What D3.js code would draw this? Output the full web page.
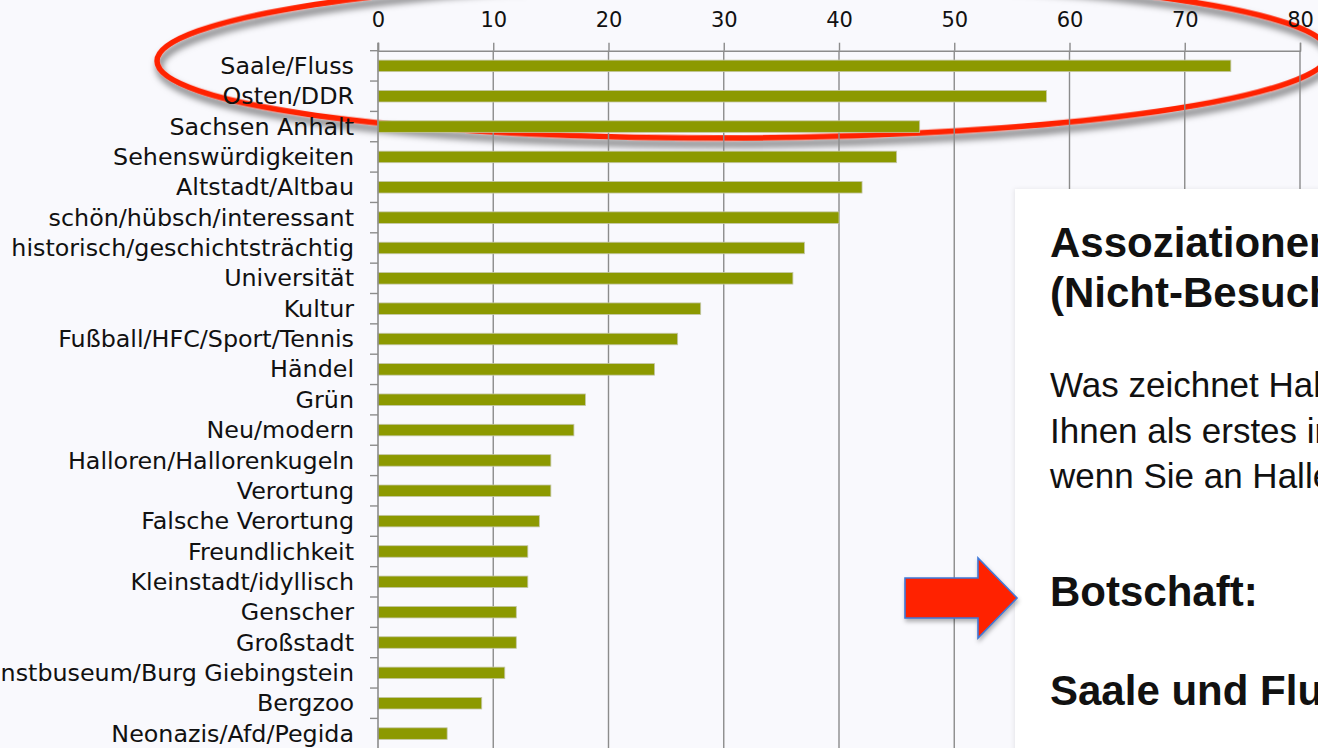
<!DOCTYPE html>
<html>
<head>
<meta charset="utf-8">
<script src="https://cdn.jsdelivr.net/npm/d3@7"></script>
<style>
  html, body { margin: 0; padding: 0; background: #f9f9fd; overflow: hidden; }
  svg { display: block; }
</style>
</head>
<body>
<div id="container"></div>
<script>
const categories = [
  'Saale/Fluss', 'Osten/DDR', 'Sachsen Anhalt', 'Sehenswürdigkeiten',
  'Altstadt/Altbau', 'schön/hübsch/interessant', 'historisch/geschichtsträchtig',
  'Universität', 'Kultur', 'Fußball/HFC/Sport/Tennis', 'Händel', 'Grün',
  'Neu/modern', 'Halloren/Hallorenkugeln', 'Verortung', 'Falsche Verortung',
  'Freundlichkeit', 'Kleinstadt/idyllisch', 'Genscher', 'Großstadt',
  'Kunstbuseum/Burg Giebingstein', 'Bergzoo', 'Neonazis/Afd/Pegida',
];
const values = [74, 58, 47, 45, 42, 40, 37, 36, 28, 26, 24, 18, 17, 15, 15, 14, 13, 13, 12, 12, 11, 9, 6];
const xTicks = [0, 10, 20, 30, 40, 50, 60, 70, 80];

const titleLines = ['Assoziationen', '(Nicht-Besucher)'];
const questionLines = ['Was zeichnet Halle', 'Ihnen als erstes in', 'wenn Sie an Halle'];
const messageLabel = 'Botschaft:';
const messageText = 'Saale und Fluss';

const width = 1318;
const height = 748;
const plotLeft = 378;
const plotRight = 1300;
const plotTop = 50.7;
const rowStep = 30.35;

const svg = d3
  .select('#container')
  .append('svg')
  .attr('width', width)
  .attr('height', height);

const defs = svg.append('defs');
defs
  .append('filter')
  .attr('id', 'shadow')
  .attr('x', '-10%')
  .attr('y', '-50%')
  .attr('width', '120%')
  .attr('height', '200%')
  .append('feDropShadow')
  .attr('dx', 2)
  .attr('dy', 6)
  .attr('stdDeviation', 3.5)
  .attr('flood-color', '#000')
  .attr('flood-opacity', 0.6);

defs
  .append('filter')
  .attr('id', 'boxshadow')
  .append('feDropShadow')
  .attr('dx', -1)
  .attr('dy', 0)
  .attr('stdDeviation', 2)
  .attr('flood-color', '#000')
  .attr('flood-opacity', 0.08);

svg.append('rect').attr('width', width).attr('height', height).attr('fill', '#f9f9fd');

// red ellipse sits behind the chart
svg
  .append('ellipse')
  .attr('cx', 743)
  .attr('cy', 57)
  .attr('rx', 586)
  .attr('ry', 81)
  .attr('transform', 'rotate(-0.4 743 57)')
  .attr('fill', 'none')
  .attr('stroke', '#ff2200')
  .attr('stroke-width', 5.5)
  .attr('filter', 'url(#shadow)');

const x = d3.scaleLinear().domain([0, 80]).range([plotLeft, plotRight]);

const y = d3
  .scaleBand()
  .domain(categories)
  .range([plotTop, plotTop + categories.length * rowStep])
  .paddingInner(0.62)
  .paddingOuter(0.31);

const gridColor = '#8c8c8c';

// top axis with gridlines
const xAxis = svg
  .append('g')
  .attr('transform', `translate(0,${plotTop})`)
  .call(d3.axisTop(x).tickValues(xTicks).tickSize(8).tickPadding(15.5));

xAxis
  .attr('font-size', 21)
  .attr('font-family', '"DejaVu Sans", Verdana, sans-serif');
xAxis.select('.domain').attr('stroke', gridColor).attr('stroke-width', 1.4);
xAxis.selectAll('.tick line').attr('stroke', gridColor).attr('stroke-width', 1.4);
xAxis.selectAll('.tick text').attr('fill', '#111');

svg
  .append('g')
  .selectAll('line')
  .data(xTicks.filter(d => d > 0))
  .enter()
  .append('line')
  .attr('x1', d => x(d))
  .attr('x2', d => x(d))
  .attr('y1', plotTop)
  .attr('y2', height)
  .attr('stroke', gridColor)
  .attr('stroke-width', 1.4);

// bars
svg
  .append('g')
  .selectAll('rect')
  .data(values)
  .enter()
  .append('rect')
  .attr('x', x(0))
  .attr('y', (d, i) => y(categories[i]))
  .attr('width', d => x(d) - x(0))
  .attr('height', y.bandwidth())
  .attr('fill', '#8c9900')
  .attr('stroke', '#c4c7a8')
  .attr('stroke-width', 0.8);

// left axis line, ticks between the rows, labels
const yAxis = svg.append('g');
yAxis
  .append('line')
  .attr('x1', x(0))
  .attr('x2', x(0))
  .attr('y1', plotTop - 8)
  .attr('y2', height)
  .attr('stroke', gridColor)
  .attr('stroke-width', 1.6);

yAxis
  .selectAll('.ytick')
  .data(categories)
  .enter()
  .append('line')
  .attr('class', 'ytick')
  .attr('x1', x(0) - 8)
  .attr('x2', x(0))
  .attr('y1', d => y(d) - (y.step() - y.bandwidth()) / 2)
  .attr('y2', d => y(d) - (y.step() - y.bandwidth()) / 2)
  .attr('stroke', gridColor)
  .attr('stroke-width', 1.4);

yAxis
  .selectAll('text')
  .data(categories)
  .enter()
  .append('text')
  .attr('x', x(0) - 24)
  .attr('y', d => y(d) + y.bandwidth() / 2)
  .attr('dy', '0.34em')
  .attr('text-anchor', 'end')
  .attr('fill', '#111')
  .style('font-family', '"DejaVu Sans", Verdana, sans-serif')
  .style('font-size', '23.8px')
  .text(d => d);

// white text panel on the right
svg
  .append('rect')
  .attr('x', 1015)
  .attr('y', 189)
  .attr('width', 320)
  .attr('height', 580)
  .attr('fill', '#ffffff')
  .attr('filter', 'url(#boxshadow)');

const panel = svg
  .append('g')
  .style('font-family', '"Liberation Sans", Arial, sans-serif')
  .attr('fill', '#111');

panel
  .selectAll('.title')
  .data(titleLines)
  .enter()
  .append('text')
  .attr('class', 'title')
  .attr('x', 1050)
  .attr('y', (d, i) => 257 + i * 50)
  .style('font-size', '42px')
  .style('font-weight', 'bold')
  .text(d => d);

panel
  .selectAll('.question')
  .data(questionLines)
  .enter()
  .append('text')
  .attr('class', 'question')
  .attr('x', 1050)
  .attr('y', (d, i) => 397 + i * 45.5)
  .style('font-size', '35px')
  .text(d => d);

panel
  .append('text')
  .attr('x', 1050)
  .attr('y', 606)
  .style('font-size', '42px')
  .style('font-weight', 'bold')
  .text(messageLabel);

panel
  .append('text')
  .attr('x', 1050)
  .attr('y', 705)
  .style('font-size', '42px')
  .style('font-weight', 'bold')
  .text(messageText);

// red arrow pointing at the message
const arrow = d3.path();
arrow.moveTo(905, 578);
arrow.lineTo(978, 578);
arrow.lineTo(978, 558);
arrow.lineTo(1017, 598);
arrow.lineTo(978, 638);
arrow.lineTo(978, 618);
arrow.lineTo(905, 618);
arrow.closePath();

svg
  .append('path')
  .attr('d', arrow.toString())
  .attr('fill', '#ff2200')
  .attr('stroke', '#3f78d8')
  .attr('stroke-width', 1.6)
  .attr('stroke-linejoin', 'miter')
  .style('filter', 'drop-shadow(1px 3px 2px rgba(0,0,0,0.3))');
</script>
</body>
</html>
